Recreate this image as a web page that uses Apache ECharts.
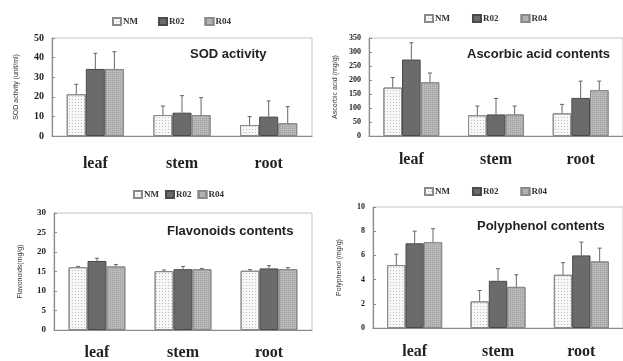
<!DOCTYPE html>
<html>
<head>
<meta charset="utf-8">
<script src="https://cdn.jsdelivr.net/npm/echarts@6/dist/echarts.min.js"></script>
<style>
  html, body { margin: 0; padding: 0; background: #fff; }
  #chart { width: 623px; height: 361px; }
</style>
</head>
<body>
<div id="chart"></div>
<script>
  // 分类与处理组
  const categories = ["leaf", "stem", "root"];
  const groups = ["NM", "R02", "R04"];

  // SOD activity (unit/ml)，每行一个处理组
  const sodMean = [[21.3, 10.7, 5.6], [34.2, 11.9, 9.9], [34.2, 10.7, 6.5]];
  const sodSD = [[5.1, 4.6, 4.3], [8.0, 8.7, 8.0], [8.8, 8.9, 8.5]];

  // Ascorbic acid (mg/g)
  const ascMean = [[173, 74, 81], [273, 77, 136], [192, 77, 164]];
  const ascSD = [[36, 33, 32], [60, 57, 60], [33, 30, 32]];

  // Flavonoids (mg/g)
  const flaMean = [[16.1, 15.1, 15.2], [17.7, 15.6, 15.8], [16.3, 15.6, 15.6]];
  const flaSD = [[0.2, 0.3, 0.3], [0.7, 0.7, 0.7], [0.5, 0.2, 0.4]];

  // Polyphenol (mg/g)
  const polMean = [[5.2, 2.2, 4.4], [7.0, 3.9, 6.0], [7.1, 3.4, 5.5]];
  const polSD = [[0.9, 0.9, 1.0], [1.0, 1.0, 1.1], [1.1, 1.0, 1.1]];

  const chart = echarts.init(document.getElementById("chart"));

  const fills = ["#f7f7f7", "#6b6b6b", "#b9b9b9"];
  const borders = ["#8a8a8a", "#4a4a4a", "#8a8a8a"];
  const decals = [
    { symbol: "rect", symbolSize: 1, color: "rgba(0,0,0,0.22)", dashArrayX: [1, 2], dashArrayY: [1, 2] },
    null,
    { symbol: "rect", symbolSize: 1, color: "rgba(0,0,0,0.15)", dashArrayX: [1, 1], dashArrayY: [1, 1] },
  ];
  const catGap = 0.34;

  // 面板布局
  const panels = [
    { mean: sodMean, sd: sodSD, max: 50, interval: 10, name: "SOD activity (unit/ml)", title: "SOD activity",
      grid: { left: 52, top: 38, width: 260, height: 98 }, titlePos: [190, 48], legend: { left: 107, top: 12, itemGap: 20 },
      labelMargin: 20, tickSize: 10, nameGap: 32 },
    { mean: ascMean, sd: ascSD, max: 350, interval: 50, name: "Ascorbic acid (mg/g)", title: "Ascorbic acid contents",
      grid: { left: 369, top: 38, width: 264, height: 98 }, titlePos: [467, 48], legend: { left: 419, top: 9, itemGap: 22 },
      labelMargin: 16, tickSize: 8, nameGap: 30 },
    { mean: flaMean, sd: flaSD, max: 30, interval: 5, name: "Flavonoids(mg/g)", title: "Flavonoids contents",
      grid: { left: 54, top: 213, width: 258, height: 119 }, titlePos: [167, 225], legend: { left: 128, top: 185, itemGap: 6 },
      labelMargin: 15, tickSize: 9, nameGap: 30 },
    { mean: polMean, sd: polSD, max: 10, interval: 2, name: "Polyphenol (mg/g)", title: "Polyphenol contents",
      grid: { left: 373, top: 207, width: 260, height: 121 }, titlePos: [477, 220], legend: { left: 419, top: 182, itemGap: 22 },
      labelMargin: 16, tickSize: 8, nameGap: 30 },
  ];

  const grid = [], xAxis = [], yAxis = [], series = [], legend = [], graphic = [];

  panels.forEach(function (p, k) {
    grid.push(Object.assign({ show: true, borderColor: "#c4c4c4", borderWidth: 1, backgroundColor: "transparent" }, p.grid));
    xAxis.push({
      type: "category", gridIndex: k, data: categories,
      axisLine: { lineStyle: { color: "#8c8c8c", width: 1.2 } },
      axisTick: { inside: true, length: 4, lineStyle: { color: "#8c8c8c" } },
      axisLabel: { margin: p.labelMargin, fontFamily: "Liberation Serif", fontWeight: "bold", fontSize: 16, color: "#222" },
    });
    yAxis.push({
      type: "value", gridIndex: k, min: 0, max: p.max, interval: p.interval,
      name: p.name, nameLocation: "middle", nameGap: p.nameGap, nameRotate: 90,
      nameTextStyle: { fontFamily: "Liberation Sans", fontSize: 7, color: "#333" },
      axisLine: { show: true, lineStyle: { color: "#8c8c8c", width: 1.2 } },
      axisTick: { show: true, inside: true, length: 3, lineStyle: { color: "#8c8c8c" } },
      splitLine: { show: false },
      axisLabel: { margin: 8, fontFamily: "Liberation Serif", fontWeight: "bold", fontSize: p.tickSize, color: "#222" },
    });
    legend.push(Object.assign({
      data: groups, icon: "rect", itemWidth: 8, itemHeight: 7, orient: "horizontal",
      textStyle: { fontFamily: "Liberation Serif", fontWeight: "bold", fontSize: 9, color: "#333", padding: [0, 0, 0, -3] },
    }, p.legend));
    graphic.push({
      type: "text", left: p.titlePos[0], top: p.titlePos[1],
      style: { text: p.title, font: "bold 13px 'Liberation Sans'", fill: "#222" },
    });

    groups.forEach(function (g, i) {
      series.push({
        name: g, type: "bar", xAxisIndex: k, yAxisIndex: k,
        barGap: "0%", barCategoryGap: catGap * 100 + "%",
        itemStyle: { color: fills[i], borderColor: borders[i], borderWidth: 1, decal: decals[i] || undefined },
        data: p.mean[i],
      });
      // 误差线（仅向上）
      series.push({
        name: g + "-err", type: "custom", xAxisIndex: k, yAxisIndex: k, z: 5,
        encode: { x: 0, y: [1, 2] },
        data: p.mean[i].map(function (v, c) { return [c, v, +(v + p.sd[i][c]).toFixed(2)]; }),
        renderItem: function (params, api) {
          const base = api.coord([api.value(0), api.value(1)]);
          const top = api.coord([api.value(0), api.value(2)]);
          const band = api.size([1, 0])[0];
          const bw = band * (1 - catGap) / 3;
          const x = base[0] + (i - 1) * bw;
          const st = { stroke: "#666", lineWidth: 1 };
          return {
            type: "group",
            children: [
              { type: "line", shape: { x1: x, y1: base[1], x2: x, y2: top[1] }, style: st },
              { type: "line", shape: { x1: x - 2, y1: top[1], x2: x + 2, y2: top[1] }, style: st },
            ],
          };
        },
      });
    });
  });

  chart.setOption({
    animation: false,
    grid: grid,
    xAxis: xAxis,
    yAxis: yAxis,
    legend: legend,
    graphic: graphic,
    series: series,
  });
</script>
</body>
</html>
